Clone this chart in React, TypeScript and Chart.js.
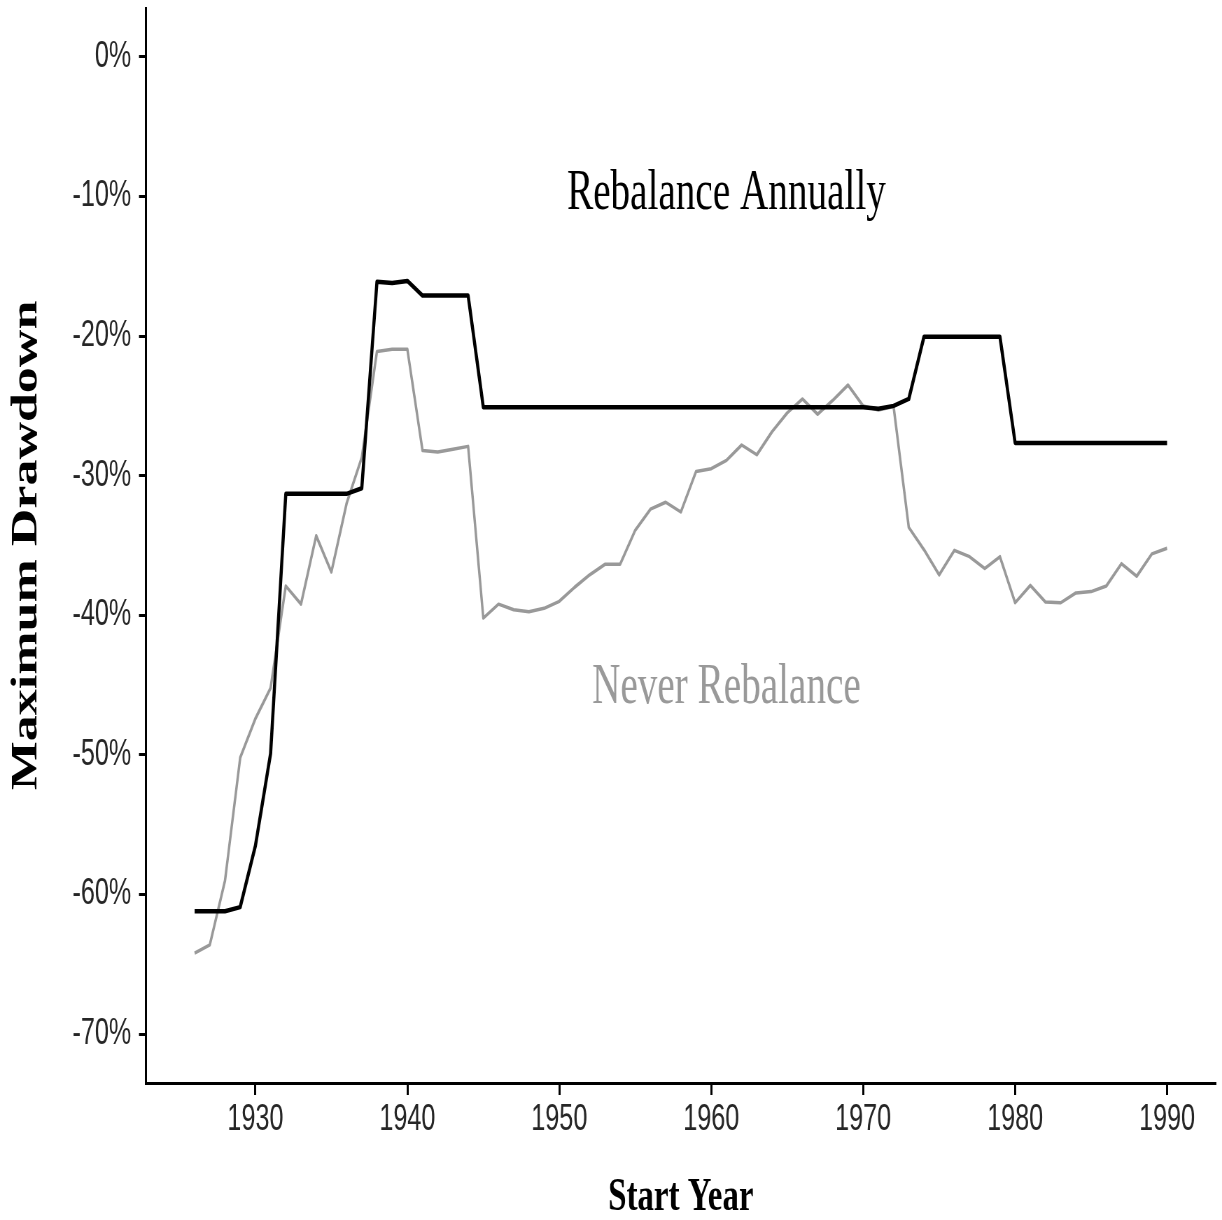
import React, { useEffect, useRef } from "react";
import { Chart, registerables } from "chart.js";

Chart.register(...registerables);

const years: number[] = [];
for (let y = 1926; y <= 1990; y++) years.push(y);

const rebalanceAnnually: number[] = [
  -61.2, -61.2, -61.2, -60.9, -56.5, -49.9, -31.3, -31.3, -31.3, -31.3,
  -31.3, -30.9, -16.1, -16.2, -16.05, -17.1, -17.1, -17.1, -17.1, -25.1,
  -25.1, -25.1, -25.1, -25.1, -25.1, -25.1, -25.1, -25.1, -25.1, -25.1,
  -25.1, -25.1, -25.1, -25.1, -25.1, -25.1, -25.1, -25.1, -25.1, -25.1,
  -25.1, -25.1, -25.1, -25.1, -25.1, -25.2, -25.0, -24.5, -20.05, -20.05,
  -20.05, -20.05, -20.05, -20.05, -27.65, -27.65, -27.65, -27.65, -27.65, -27.65,
  -27.65, -27.65, -27.65, -27.65, -27.65,
];

const neverRebalance: number[] = [
  -64.2, -63.6, -59.0, -50.2, -47.4, -45.2, -37.9, -39.2, -34.3, -36.9,
  -32.0, -28.7, -21.1, -20.95, -20.95, -28.2, -28.3, -28.1, -27.9, -40.2,
  -39.2, -39.6, -39.75, -39.5, -39.0, -38.0, -37.1, -36.35, -36.35, -33.9,
  -32.4, -31.9, -32.6, -29.7, -29.5, -28.9, -27.8, -28.5, -26.85, -25.5,
  -24.5, -25.6, -24.6, -23.5, -25.0, -25.3, -25.05, -33.7, -35.3, -37.1,
  -35.35, -35.8, -36.65, -35.8, -39.1, -37.85, -39.05, -39.1, -38.4, -38.3,
  -37.9, -36.3, -37.2, -35.6, -35.2,
];

const xTicks: number[] = [1930, 1940, 1950, 1960, 1970, 1980, 1990];
const yTicks: number[] = [-70, -60, -50, -40, -30, -20, -10, 0];

const annotations = [
  { text: "Rebalance Annually", x: 1961, y: -10.9, color: "#000000" },
  { text: "Never Rebalance", x: 1961, y: -46.3, color: "#999999" },
];

const CANVAS_W = 1746;
const CANVAS_H = 1220;
const SQUISH = 1222 / CANVAS_W;

const annotationPlugin = {
  id: "textAnnotations",
  afterDatasetsDraw(chart: any) {
    const { ctx, scales } = chart;
    ctx.save();
    ctx.font = "56px 'Liberation Serif'";
    ctx.textAlign = "center";
    ctx.textBaseline = "alphabetic";
    for (const a of annotations) {
      ctx.fillStyle = a.color;
      ctx.fillText(a.text, scales.x.getPixelForValue(a.x), scales.y.getPixelForValue(a.y));
    }
    ctx.restore();
  },
};

const zeroPadding = (sc: any) => {
  sc.paddingTop = 0;
  sc.paddingBottom = 0;
  sc.paddingLeft = 0;
  sc.paddingRight = 0;
};

export default function App() {
  const ref = useRef<HTMLCanvasElement | null>(null);

  useEffect(() => {
    if (!ref.current) return;
    const chart = new Chart(ref.current, {
      type: "line",
      data: {
        datasets: [
          {
            label: "Rebalance Annually",
            data: years.map((y, i) => ({ x: y, y: rebalanceAnnually[i] })),
            borderColor: "#000000",
            borderWidth: 4.5,
            pointRadius: 0,
            tension: 0,
            borderJoinStyle: "round",
          },
          {
            label: "Never Rebalance",
            data: years.map((y, i) => ({ x: y, y: neverRebalance[i] })),
            borderColor: "#999999",
            borderWidth: 3.5,
            pointRadius: 0,
            tension: 0,
            borderJoinStyle: "round",
          },
        ],
      },
      options: {
        responsive: false,
        animation: false,
        devicePixelRatio: 1,
        layout: { padding: { left: 0, right: 9, top: 8, bottom: 0 } },
        plugins: { legend: { display: false }, tooltip: { enabled: false } },
        scales: {
          x: {
            type: "linear",
            min: 1922.8,
            max: 1993.2,
            afterBuildTicks: (sc: any) => {
              sc.ticks = xTicks.map((v) => ({ value: v }));
            },
            afterFit: (sc: any) => {
              sc.height = CANVAS_H - 1083;
              zeroPadding(sc);
            },
            ticks: {
              autoSkip: false,
              maxRotation: 0,
              padding: 3,
              color: "#262626",
              font: { family: "'Liberation Sans'", size: 36 },
              callback: (v: any) => String(v),
            },
            grid: {
              display: true,
              drawOnChartArea: false,
              drawTicks: true,
              tickLength: 12,
              tickWidth: 3,
              tickColor: "#000000",
            },
            border: { display: true, color: "#000000", width: 3 },
            title: {
              display: true,
              text: "Start Year",
              color: "#000000",
              padding: 0,
              font: { family: "'Liberation Serif'", size: 47, weight: "bold", lineHeight: 0.93 },
            },
          },
          y: {
            type: "linear",
            min: -73.5,
            max: 3.5,
            afterBuildTicks: (sc: any) => {
              sc.ticks = yTicks.map((v) => ({ value: v }));
            },
            afterFit: (sc: any) => {
              sc.width = 208.6;
              zeroPadding(sc);
            },
            ticks: {
              padding: 11,
              color: "#262626",
              font: { family: "'Liberation Sans'", size: 36 },
              callback: (v: any) => v + "%",
            },
            grid: {
              display: true,
              drawOnChartArea: false,
              drawTicks: true,
              tickLength: 10,
              tickWidth: 3,
              tickColor: "#000000",
            },
            border: { display: true, color: "#000000", width: 3 },
            title: {
              display: true,
              text: "Maximum Drawdown",
              color: "#000000",
              padding: { top: 7, bottom: 0 },
              font: { family: "'Liberation Serif'", size: 52, weight: "bold" },
            },
          },
        },
      },
      plugins: [annotationPlugin],
    } as any);
    return () => chart.destroy();
  }, []);

  return (
    <div
      style={{
        position: "fixed",
        left: 0,
        top: 0,
        width: 1222,
        height: 1220,
        overflow: "hidden",
        background: "#ffffff",
      }}
    >
      <canvas
        ref={ref}
        width={CANVAS_W}
        height={CANVAS_H}
        style={{
          display: "block",
          width: CANVAS_W,
          height: CANVAS_H,
          transform: `scaleX(${SQUISH})`,
          transformOrigin: "0 0",
        }}
      />
    </div>
  );
}
